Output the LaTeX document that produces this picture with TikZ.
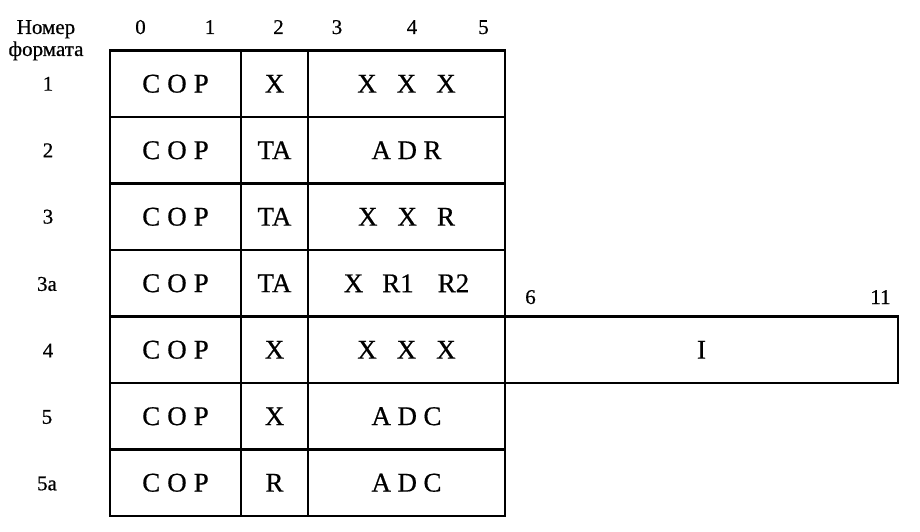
\documentclass[tikz,border=0pt]{standalone}
\usepackage{fontspec}
\setmainfont{Liberation Serif}[FakeBold=0.6]
\usetikzlibrary{positioning}
\tikzset{
  cell/.style    = {draw, line width=2.4pt, inner sep=0pt, outer sep=0pt,
                    minimum height=66.5pt, font=\fontsize{27}{30}\selectfont},
  copcell/.style = {cell, minimum width=131pt},
  tacell/.style  = {cell, minimum width=67pt},
  adrcell/.style = {cell, minimum width=197pt},
  lbl/.style     = {inner sep=0pt, font=\fontsize{21}{22}\selectfont}
}
\newcommand{\gap}[1]{\hspace{#1pt}}

\begin{document}
\begin{tikzpicture}[x=1pt, y=-1pt]
    \useasboundingbox (0,0) rectangle (920,532);

    % ── Header ─────────────────────────────────────────────────────────
    \node[lbl, align=center, anchor=north] (hdr) at (46, 20)
      {Номер\\формата};
    \node[lbl, anchor=base] (b0) at (140.5, 34) {0};
    \node[lbl, anchor=base] (b1) at (210, 34)   {1};
    \node[lbl, anchor=base] (b2) at (278.5, 34) {2};
    \node[lbl, anchor=base] (b3) at (337, 34)   {3};
    \node[lbl, anchor=base] (b4) at (412, 34)   {4};
    \node[lbl, anchor=base] (b5) at (483.5, 34) {5};

    % ── Format 1 ───────────────────────────────────────────────────────
    \node[lbl] (f1) at (48, 83.75) {1};
    \node[copcell] (cop1) at (175.5, 83.75) {C\gap{7}O\gap{7}P};
    \node[tacell, right=0pt of cop1] (ta1) {X};
    \node[adrcell, right=0pt of ta1] (adr1) {X\gap{20}X\gap{20}X};

    % ── Format 2 ───────────────────────────────────────────────────────
    \node[lbl] (f2) at (48, 150.25) {2};
    \node[copcell] (cop2) at (175.5, 150.25) {C\gap{7}O\gap{7}P};
    \node[tacell, right=0pt of cop2] (ta2) {TA};
    \node[adrcell, right=0pt of ta2] (adr2) {A\gap{6.5}D\gap{6.5}R};

    % ── Format 3 ───────────────────────────────────────────────────────
    \node[lbl] (f3) at (48, 216.75) {3};
    \node[copcell] (cop3) at (175.5, 216.75) {C\gap{7}O\gap{7}P};
    \node[tacell, right=0pt of cop3] (ta3) {TA};
    \node[adrcell, right=0pt of ta3] (adr3) {X\gap{20}X\gap{20}R};

    % ── Format 3a ──────────────────────────────────────────────────────
    \node[lbl] (f3a) at (47, 284) {3a};
    \node[copcell] (cop3a) at (175.5, 283.25) {C\gap{7}O\gap{7}P};
    \node[tacell, right=0pt of cop3a] (ta3a) {TA};
    \node[adrcell, right=0pt of ta3a] (adr3a) {X\gap{19}R1\gap{24}R2};

    % ── Format 4 (with immediate operand) ─────────────────────────────
    \node[lbl] (f4) at (48, 350.5) {4};
    \node[copcell] (cop4) at (175.5, 349.75) {C\gap{7}O\gap{7}P};
    \node[tacell, right=0pt of cop4] (ta4) {X};
    \node[adrcell, right=0pt of ta4] (adr4) {X\gap{20}X\gap{20}X};
    \node[cell, minimum width=393pt, right=0pt of adr4] (imm4) {I};
    \node[lbl, anchor=base] (b6)  at (530.5, 304) {6};
    \node[lbl, anchor=base] (b11) at (880.5, 304) {11};

    % ── Format 5 ───────────────────────────────────────────────────────
    \node[lbl] (f5) at (47, 417) {5};
    \node[copcell] (cop5) at (175.5, 416.25) {C\gap{7}O\gap{7}P};
    \node[tacell, right=0pt of cop5] (ta5) {X};
    \node[adrcell, right=0pt of ta5] (adr5) {A\gap{6.5}D\gap{6.5}C};

    % ── Format 5a ──────────────────────────────────────────────────────
    \node[lbl] (f5a) at (47, 483.5) {5a};
    \node[copcell] (cop5a) at (175.5, 482.75) {C\gap{7}O\gap{7}P};
    \node[tacell, right=0pt of cop5a] (ta5a) {R};
    \node[adrcell, right=0pt of ta5a] (adr5a) {A\gap{6.5}D\gap{6.5}C};

\end{tikzpicture}
\end{document}
